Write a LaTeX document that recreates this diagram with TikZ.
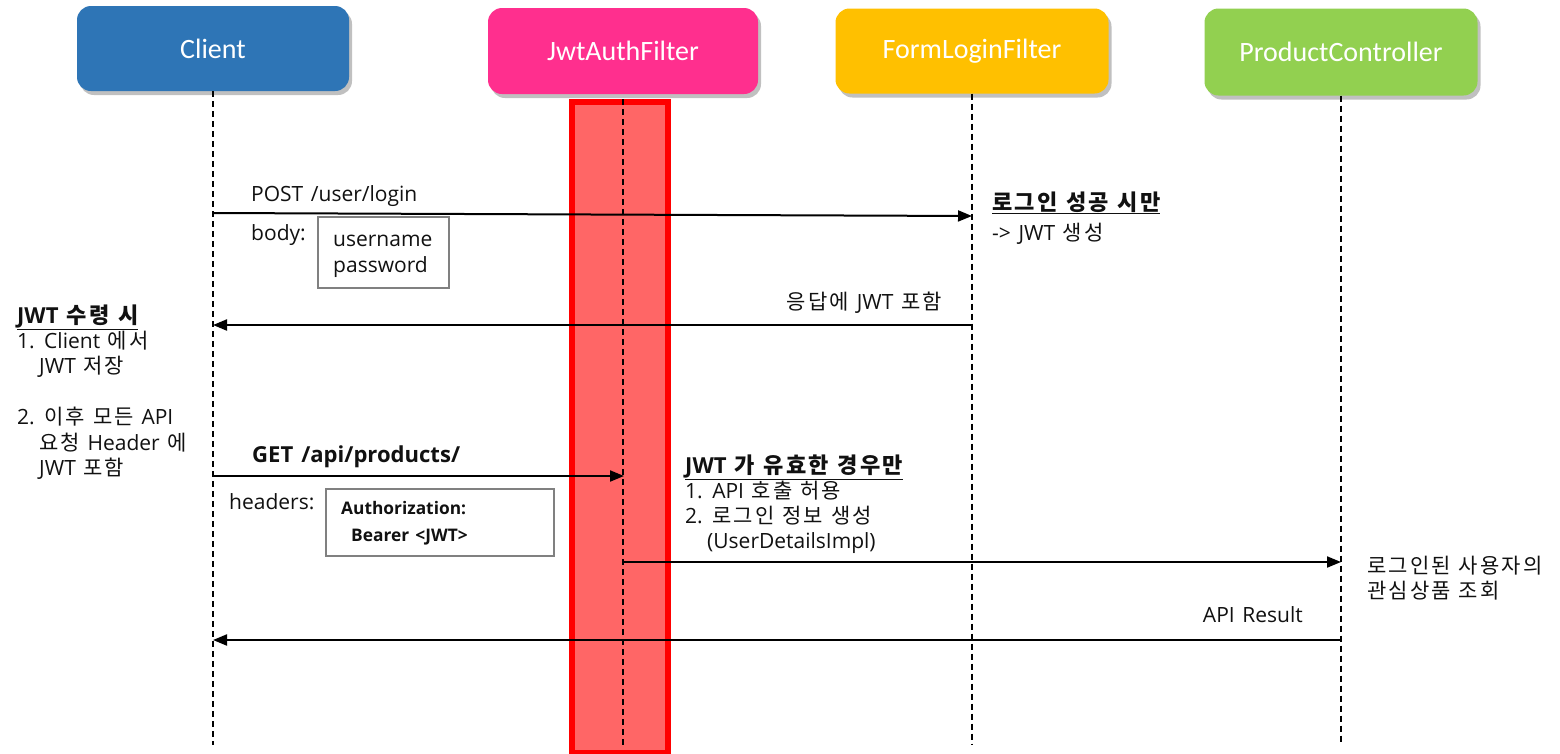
\documentclass[tikz,border=0pt]{standalone}
\usepackage{fontspec}
\setmainfont[Scale=1.05,WordSpace=1.4]{Open Sans}
\newfontfamily\krfont[Scale=1.05,LetterSpace=10,WordSpace=1.2]{Noto Sans CJK KR}
\newfontfamily\hdrfont{Carlito}
\usetikzlibrary{arrows.meta,shadows}
\newcommand\K[1]{{\krfont #1}}
\definecolor{cblue}{HTML}{2E75B6}
\definecolor{cpink}{HTML}{FF2F8E}
\definecolor{cyellow}{HTML}{FFC000}
\definecolor{cgreen}{HTML}{92D050}
\definecolor{barfill}{HTML}{FF6666}
\definecolor{txt}{HTML}{111111}
\begin{document}
\begin{tikzpicture}[x=1pt,y=-1pt,
  hdr/.style={rounded corners=14pt, minimum height=85pt, minimum width=272pt, inner sep=0pt,
    text=white, font=\hdrfont\fontsize{28}{32}\selectfont,
    drop shadow={shadow xshift=3pt, shadow yshift=-4pt, opacity=0.35, fill=black!70}},
  life/.style={dash pattern=on 6pt off 4pt, line width=1.2pt, black},
  msg/.style={line width=2pt, black, -{Triangle[length=14pt,width=11pt]}},
  lbl/.style={anchor=base west, inner sep=0pt, text=txt, font=\fontsize{20}{24}\selectfont},
  lblb/.style={lbl, font=\bfseries\fontsize{21}{24}\selectfont},
  databox/.style={draw=gray, line width=1.5pt, fill=white, anchor=north west, inner sep=0pt}]
\useasboundingbox (0,0) rectangle (1560,753);
\fill[white] (0,0) rectangle (1560,753);

% header boxes
\node[hdr, fill=cblue] (client) at (213,48.5) {Client};
\node[hdr, fill=cpink, minimum width=270pt, minimum height=86pt] (jwt) at (623,51) {JwtAuthFilter};
\node[hdr, fill=cyellow, minimum width=273pt] (form) at (972,51) {FormLoginFilter};
\node[hdr, fill=cgreen, minimum width=273pt, minimum height=87pt] (prod) at (1341,52) {ProductController};

% activation bar
\node[draw=red, line width=6pt, fill=barfill, minimum width=96pt, minimum height=651pt,
  anchor=north west, inner sep=0pt] (bar) at (569,99) {};

% lifelines
\coordinate (bot) at (0,745);
\draw[life] (client.south) -- (client.south |- bot);
\draw[life] (jwt.south |- bar.north) -- (jwt.south |- bot);
\draw[life] (form.south) -- (form.south |- bot);
\draw[life] (prod.south) -- (prod.south |- bot);

% message end points
\coordinate (m1s) at (213,213);
\coordinate (m1e) at (972,216);
\coordinate (m2s) at (972,325);
\coordinate (m2e) at (213,325);
\coordinate (m3s) at (213,476);
\coordinate (m3e) at (624,476);
\coordinate (m4s) at (624,562);
\coordinate (m4e) at (1341,562);
\coordinate (m5s) at (1341,640);
\coordinate (m5e) at (213,640);

\draw[msg] (m1s) -- (m1e);
\draw[msg] (m2s) -- (m2e);
\draw[msg] (m3s) -- (m3e);
\draw[msg] (m4s) -- (m4e);
\draw[msg] (m5s) -- (m5e);

% POST /user/login
\node[lbl] (post) at (251,201) {POST /user/login};
\node[lbl] (body) at (251,240) {body:};
\node[databox, minimum width=131pt, minimum height=71pt] (bodybox) at (317,216) {};
\node[lbl] (uname) at (333,246) {username};
\node[lbl] (pword) at (333,272) {password};

% login success
\node[lblb] (loginok) at (992,210) {\underline{\K{로그인 성공 시만}}};
\node[lbl] (jwtgen) at (992,240) {-> JWT \K{생성}};

% response
\node[lbl, anchor=base east] (resp) at (942,309) {\K{응답에} JWT \K{포함}};

% JWT received
\node[lblb] (recv) at (17,323) {\underline{JWT \K{수령 시}}};
\node[lbl] (r1) at (17,348) {1. Client \K{에서}};
\node[lbl] (r1b) at (39,373) {JWT \K{저장}};
\node[lbl] (r2) at (17,424) {2. \K{이후 모든} API};
\node[lbl] (r2b) at (39,450) {\K{요청} Header \K{에}};
\node[lbl] (r2c) at (39,475) {JWT \K{포함}};

% GET
\node[lblb] (get) at (252,462) {GET /api/products/};
\node[lbl] (hdrs) at (229,509) {headers:};
\node[databox, minimum width=228pt, minimum height=67pt] (authbox) at (325,488) {};
\node[lbl, font=\bfseries\fontsize{16.5}{20}\selectfont] (auth) at (341,514) {Authorization:};
\node[lbl, font=\bfseries\fontsize{16.5}{20}\selectfont] (bearer) at (351,541) {Bearer <JWT>};

% JWT valid
\node[lblb] (valid) at (685,473) {\underline{JWT \K{가 유효한 경우만}}};
\node[lbl] (v1) at (685,498) {1. API \K{호출 허용}};
\node[lbl] (v2) at (685,523) {2. \K{로그인 정보 생성}};
\node[lbl] (v3) at (707,548) {(UserDetailsImpl)};

% product controller
\node[lbl] (pc1) at (1367,573) {\K{로그인된 사용자의}};
\node[lbl] (pc2) at (1367,598) {\K{관심상품 조회}};

% API result
\node[lbl, anchor=base east] (apires) at (1303,622) {API Result};
\end{tikzpicture}
\end{document}
